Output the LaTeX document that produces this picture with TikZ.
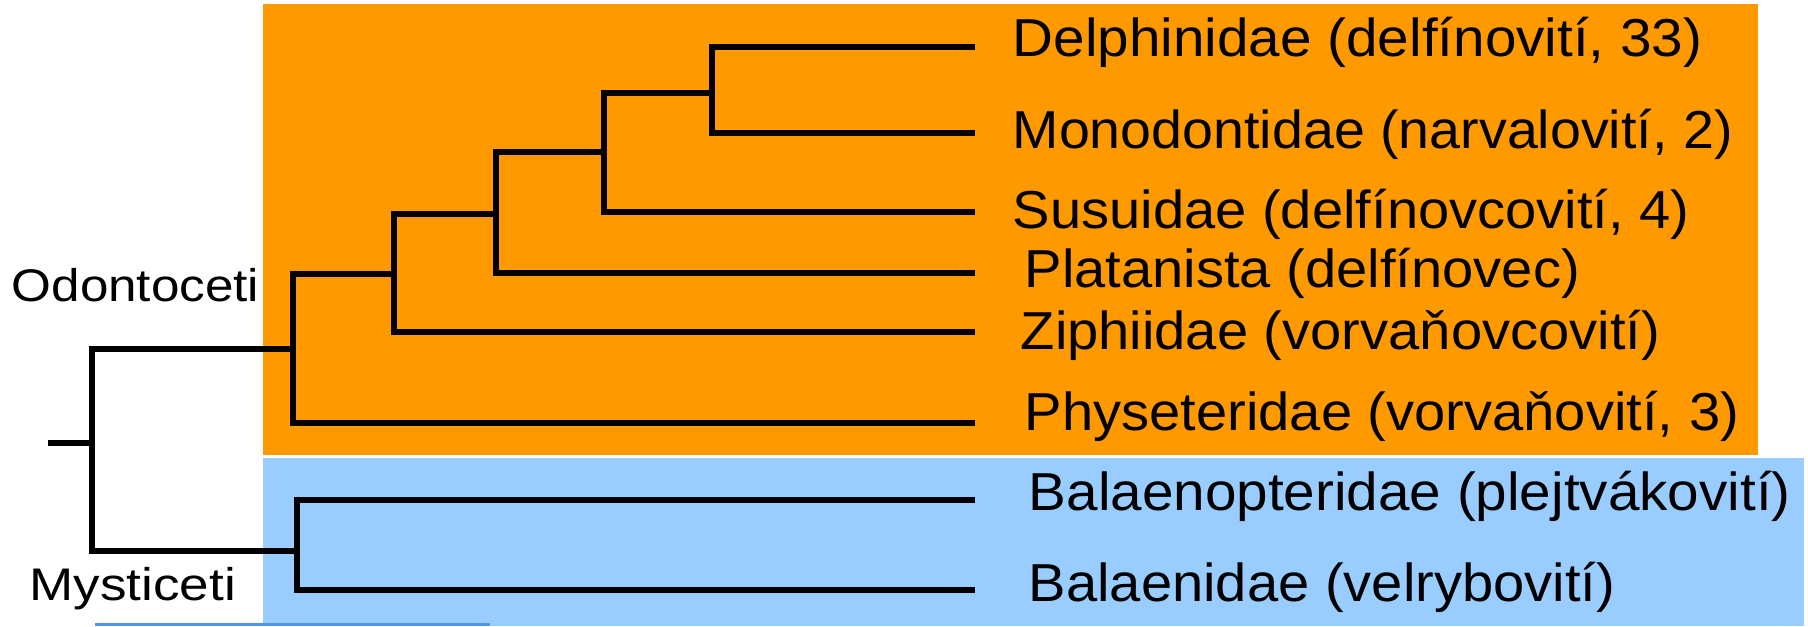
\documentclass[tikz,border=0pt]{standalone}
\usepackage{fontspec}
\setmainfont{Liberation Sans}
\definecolor{odoorange}{HTML}{FF9900}
\definecolor{myslight}{HTML}{99CCFF}
\definecolor{mysline}{HTML}{4F94F2}
\begin{document}
\begin{tikzpicture}[x=0.01cm,y=-0.01cm,
  branch/.style={line width=1.6pt,line join=miter,line cap=rect},
  taxon/.style={anchor=base west,inner sep=0pt,font=\fontsize{15.2}{18}\selectfont},
  grouplab/.style={anchor=base west,inner sep=0pt,font=\fontsize{13}{16}\selectfont}]
\useasboundingbox (0,0) rectangle (1808,626);
% backgrounds
\fill[odoorange] (263,4) rectangle (1758,455);
\fill[myslight] (263,458) rectangle (1804,626);
\draw[mysline,line width=1pt] (95,624.5) -- (490,624.5);
% coordinates
\coordinate (stub) at (51,443);
\coordinate (root) at (92,443);
\coordinate (odo) at (293,349);
\coordinate (mys) at (297,551);
\coordinate (n2) at (394,274);
\coordinate (n3) at (496,214);
\coordinate (n4) at (604,152);
\coordinate (n5) at (712,93);
\coordinate (Ldel) at (972,47);
\coordinate (Lmon) at (972,133);
\coordinate (Lsus) at (972,212);
\coordinate (Lpla) at (972,273);
\coordinate (Lzip) at (972,332);
\coordinate (Lphy) at (972,423);
\coordinate (Lbpt) at (972,500);
\coordinate (Lbal) at (972,590);
% tree
\draw[branch] (stub) -- (root);
\draw[branch] (odo) -| (root) |- (mys);
\draw[branch] (n2) -| (293,423) -- (Lphy);
\draw[branch] (n3) -| (394,332) -- (Lzip);
\draw[branch] (n4) -| (496,273) -- (Lpla);
\draw[branch] (n5) -| (604,212) -- (Lsus);
\draw[branch] (Ldel) -| (712,133) -- (Lmon);
\draw[branch] (Lbpt) -| (297,590) -- (Lbal);
% labels
\node[taxon] (tdel) at (1012,56) {\scalebox{1.06}[1]{Delphinidae (delfínovití, 33)}};
\node[taxon] (tmon) at (1012,148) {\scalebox{1.04}[1]{Monodontidae (narvalovití, 2)}};
\node[taxon] (tsus) at (1012,228) {\scalebox{1.05}[1]{Susuidae (delfínovcovití, 4)}};
\node[taxon] (tpla) at (1024,287) {\scalebox{1.05}[1]{Platanista (delfínovec)}};
\node[taxon] (tzip) at (1020,349) {\scalebox{1.05}[1]{Ziphiidae (vorvaňovcovití)}};
\node[taxon] (tphy) at (1024,430) {\scalebox{1.05}[1]{Physeteridae (vorvaňovití, 3)}};
\node[taxon] (tbpt) at (1028,510) {\scalebox{1.06}[1]{Balaenopteridae (plejtvákovití)}};
\node[taxon] (tbal) at (1028,601) {\scalebox{1.05}[1]{Balaenidae (velrybovití)}};
\node[grouplab] (godo) at (11,301) {\scalebox{1.12}[1]{Odontoceti}};
\node[grouplab] (gmys) at (29,600) {\scalebox{1.16}[1]{Mysticeti}};
\end{tikzpicture}
\end{document}
